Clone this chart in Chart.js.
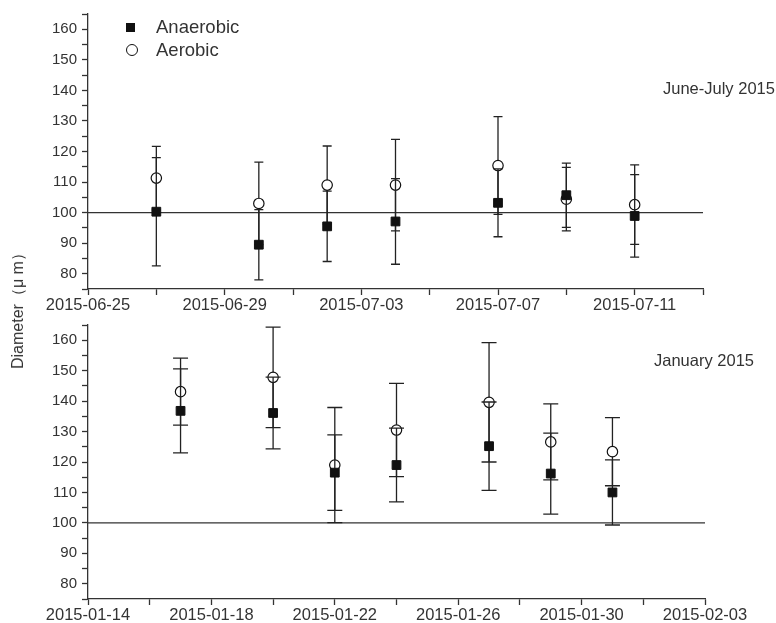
<!DOCTYPE html>
<html>
<head>
<meta charset="utf-8">
<script src="https://cdn.jsdelivr.net/npm/chart.js@4.4.1/dist/chart.umd.min.js"></script>
<style>
  body { margin: 0; background: #fff; }
  #wrap { position: relative; width: 776px; height: 623px; font-family: 'Liberation Sans', Arial, sans-serif; color: #333; }
  canvas { position: absolute; left: 0; }
  .note { position: absolute; font-size: 16.5px; white-space: nowrap; line-height: 1; }
  .leg { position: absolute; font-size: 18.5px; white-space: nowrap; line-height: 1; }
  .mk-sq { position: absolute; width: 9px; height: 9px; background: #111; }
  .mk-ci { position: absolute; width: 10px; height: 10px; border: 1.2px solid #111; border-radius: 50%; background: #fff; }
  #ytitle { position: absolute; left: 18px; top: 307px; font-size: 16px; font-weight: 400; color: #333; line-height: 1; white-space: nowrap; transform: translate(-50%, -50%) rotate(-90deg); }
</style>
</head>
<body>
<div id="wrap">
  <canvas id="topChart" width="776" height="320" style="top:0"></canvas>
  <canvas id="bottomChart" width="776" height="313" style="top:310px"></canvas>

  <div class="mk-sq" style="left:126px; top:23px"></div>
  <div class="leg" style="left:156px; top:18px">Anaerobic</div>
  <div class="mk-ci" style="left:126px; top:44px"></div>
  <div class="leg" style="left:156px; top:41px">Aerobic</div>

  <div class="note" style="left:663px; top:80px">June-July 2015</div>
  <div class="note" style="left:654px; top:352px">January 2015</div>
  <div id="ytitle">Diameter（μ m）</div>
</div>
<script>
// Diameter data
const refLevel = 100;

// June-July 2015
const summerStart = '2015-06-25';
const summerEnd = '2015-07-13';
const summerDates = ['2015-06-27', '2015-06-30', '2015-07-02', '2015-07-04', '2015-07-07', '2015-07-09', '2015-07-11'];
const summerAnaerobic = [100.3, 89.5, 95.5, 97.1, 103.2, 105.7, 98.9];
const summerAnaerobicErr = [17.7, 11.5, 11.5, 14, 11.1, 10.5, 13.5];
const summerAerobic = [111.3, 103, 109, 109, 115.4, 104.4, 102.6];
const summerAerobicErr = [10.4, 13.5, 12.8, 15, 16, 10.4, 13];

// January 2015
const winterStart = '2015-01-14';
const winterEnd = '2015-02-03';
const winterDates = ['2015-01-17', '2015-01-20', '2015-01-22', '2015-01-24', '2015-01-27', '2015-01-29', '2015-01-31'];
const winterAnaerobic = [136.8, 136.1, 116.5, 119, 125.2, 116.2, 110];
const winterAnaerobicErr = [13.8, 11.8, 12.4, 12.1, 14.5, 13.3, 10.7];
const winterAerobic = [143.1, 147.8, 119, 130.5, 139.6, 126.6, 123.4];
const winterAerobicErr = [11, 16.5, 18.9, 15.3, 19.6, 12.5, 11.2];

const yMin = 75;
const yMax = 165;

const DAY = 86400000;
const ink = '#333';
const font = "'Liberation Sans', Arial, sans-serif";

function dayOffset(start, d) {
  return (Date.parse(d) - Date.parse(start)) / DAY;
}
function dayLabel(start, off) {
  return new Date(Date.parse(start) + off * DAY).toISOString().slice(0, 10);
}

// error bars are drawn just before the dataset's own markers
const errorBars = {
  id: 'errorBars',
  beforeDatasetDraw(chart, args, opts) {
    const ds = chart.data.datasets[args.index];
    if (!ds.errors) return;
    const ys = chart.scales.y;
    const ctx = chart.ctx;
    const w = opts.capWidth / 2;
    ctx.save();
    ctx.strokeStyle = '#222';
    ctx.lineWidth = 1.3;
    args.meta.data.forEach((pt, i) => {
      const v = ds.data[i].y;
      const e = ds.errors[i];
      const y1 = ys.getPixelForValue(v + e);
      const y2 = ys.getPixelForValue(v - e);
      ctx.beginPath();
      ctx.moveTo(pt.x, y1); ctx.lineTo(pt.x, y2);
      ctx.moveTo(pt.x - w, y1); ctx.lineTo(pt.x + w, y1);
      ctx.moveTo(pt.x - w, y2); ctx.lineTo(pt.x + w, y2);
      ctx.stroke();
    });
    ctx.restore();
  }
};

const refLine = {
  id: 'refLine',
  beforeDatasetsDraw(chart) {
    const a = chart.chartArea;
    const y = chart.scales.y.getPixelForValue(refLevel);
    const ctx = chart.ctx;
    ctx.save();
    ctx.strokeStyle = ink;
    ctx.lineWidth = 1.2;
    ctx.beginPath();
    ctx.moveTo(a.left, y);
    ctx.lineTo(a.right, y);
    ctx.stroke();
    ctx.restore();
  }
};

function makePanel(id, start, end, dates, anaer, anaerErr, aer, aerErr, o) {
  const pts = (vals) => dates.map((d, i) => ({ x: dayOffset(start, d), y: vals[i] }));
  return new Chart(document.getElementById(id), {
    type: 'scatter',
    data: {
      datasets: [{
        label: 'Anaerobic',
        data: pts(anaer),
        errors: anaerErr,
        order: 0,
        pointStyle: 'rect',
        pointRadius: 6.2,
        backgroundColor: '#111',
        borderColor: '#111',
        borderWidth: 1
      }, {
        label: 'Aerobic',
        data: pts(aer),
        errors: aerErr,
        order: 1,
        pointStyle: 'circle',
        pointRadius: 5.2,
        backgroundColor: '#fff',
        borderColor: '#111',
        borderWidth: 1.2
      }]
    },
    options: {
      responsive: false,
      animation: false,
      events: [],
      layout: { padding: o.padding },
      plugins: {
        legend: { display: false },
        tooltip: { enabled: false },
        errorBars: { capWidth: o.capWidth }
      },
      scales: {
        x: {
          type: 'linear',
          min: 0,
          max: dayOffset(start, end),
          afterFit: (s) => { s.height = o.xHeight; },
          border: { display: true, color: ink, width: 1.3 },
          grid: { drawOnChartArea: false, drawTicks: true, tickLength: 6, color: ink, tickWidth: 1.3 },
          ticks: {
            stepSize: 2,
            autoSkip: false,
            maxRotation: 0,
            padding: o.xPad,
            color: ink,
            font: { family: font, size: 16.5 },
            callback: (v) => v % 4 === 0 ? dayLabel(start, v) : ''
          }
        },
        y: {
          min: yMin,
          max: yMax,
          afterFit: (s) => { s.width = 88; },
          border: { display: true, color: ink, width: 1.3 },
          grid: { drawOnChartArea: false, drawTicks: true, tickLength: 6, color: ink, tickWidth: 1.3 },
          ticks: {
            stepSize: 5,
            autoSkip: false,
            padding: 5,
            color: ink,
            font: { family: font, size: 15 },
            callback: (v) => v % 10 === 0 ? v : ''
          }
        }
      }
    },
    plugins: [errorBars, refLine]
  });
}

makePanel('topChart', summerStart, summerEnd, summerDates,
  summerAnaerobic, summerAnaerobicErr, summerAerobic, summerAerobicErr,
  { padding: { top: 12, right: 73, left: 0, bottom: 0 }, xHeight: 31, xPad: 1, capWidth: 9 });

makePanel('bottomChart', winterStart, winterEnd, winterDates,
  winterAnaerobic, winterAnaerobicErr, winterAerobic, winterAerobicErr,
  { padding: { top: 15, right: 71, left: 0, bottom: 0 }, xHeight: 24, xPad: 1, capWidth: 15 });
</script>
</body>
</html>
